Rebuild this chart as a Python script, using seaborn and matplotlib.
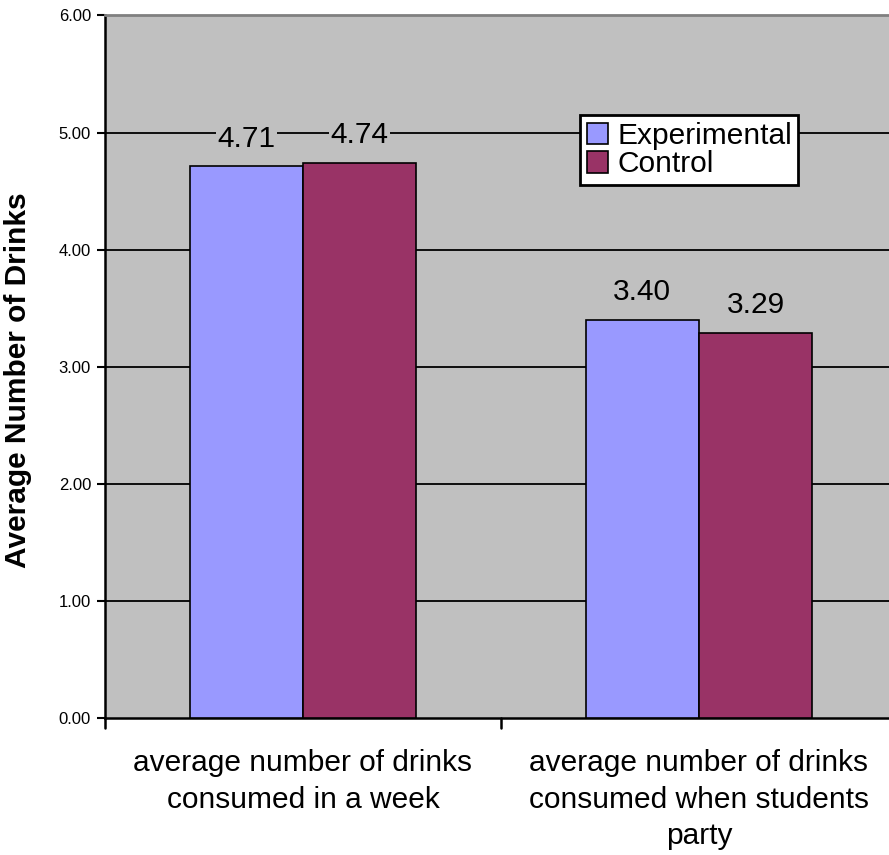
import matplotlib
matplotlib.use('Agg')
import matplotlib.pyplot as plt
import numpy as np
import pandas as pd
import seaborn as sns

# data
categories = ['average number of drinks\nconsumed in a week',
              'average number of drinks\nconsumed when students\nparty']
groups = ['Experimental', 'Control']
experimental = [4.71, 3.40]
control = [4.74, 3.29]
colors = ['#9999FF', '#993366']

df = pd.DataFrame({
    'category': categories * 2,
    'group': [groups[0]] * 2 + [groups[1]] * 2,
    'value': experimental + control,
})

sns.set_style(style='white')
plt.rcParams['font.family'] = ['Liberation Sans', 'DejaVu Sans']
plt.rcParams.update({'text.color': 'black', 'axes.labelcolor': 'black',
                     'xtick.color': 'black', 'ytick.color': 'black'})

fig = plt.figure(figsize=(8.89, 8.55), dpi=100)
ax = fig.add_axes([0.118, 0.160, 0.882, 0.822])
ax.set_facecolor('#C0C0C0')

g = sns.barplot(data=df, x='category', y='value', hue='group', palette=colors,
                saturation=1, width=0.572, edgecolor='black', linewidth=1.2,
                ax=ax, zorder=3)

# gridlines
ax.set_ylim(0, 6)
ax.set_yticks(np.arange(0, 7, 1))
ax.set_yticklabels(['%.2f' % v for v in np.arange(0, 7, 1)], fontsize=12)
for v in range(1, 6):
    ax.axhline(v, color='black', linewidth=1.3, zorder=1)

ax.set_xlim(-0.5, 1.48)
ax.set_xticks([0, 1])
ax.set_xticklabels(categories, fontsize=21.5, linespacing=1.4)
ax.tick_params(axis='x', length=0, pad=22)
ax.tick_params(axis='y', length=6, width=1.5, direction='out', left=True, pad=4)
# category boundary ticks
for xb in [-0.5, 0.5]:
    ax.plot([xb, xb], [0, -0.085], color='black', linewidth=1.8, clip_on=False, zorder=4)

for side in ['left', 'bottom']:
    ax.spines[side].set_color('black')
    ax.spines[side].set_linewidth(1.8)
ax.spines['top'].set_color('#808080')
ax.spines['top'].set_linewidth(2)
ax.spines['right'].set_visible(False)

# value labels
for container in ax.containers:
    for bar in container:
        h = bar.get_height()
        ax.text(bar.get_x() + bar.get_width() / 2, h + 0.235, '%.2f' % h,
                ha='center', va='center', fontsize=21.5, zorder=5,
                bbox=dict(facecolor='#C0C0C0', edgecolor='none', pad=1))

ax.set_xlabel('')
ax.set_ylabel('Average Number of Drinks', fontsize=21.5, fontweight='bold')
ax.yaxis.set_label_coords(-0.093, 0.481)

leg = ax.legend(loc='upper left', bbox_to_anchor=(0.606, 0.858), fontsize=21.5,
                frameon=True, fancybox=False, framealpha=1, edgecolor='black',
                borderpad=0.22, handlelength=0.72, handleheight=0.72,
                handletextpad=0.3, labelspacing=0.02, borderaxespad=0)
leg.get_frame().set_linewidth(2)
leg.set_zorder(6)

fig.savefig('out.png', dpi=100)
